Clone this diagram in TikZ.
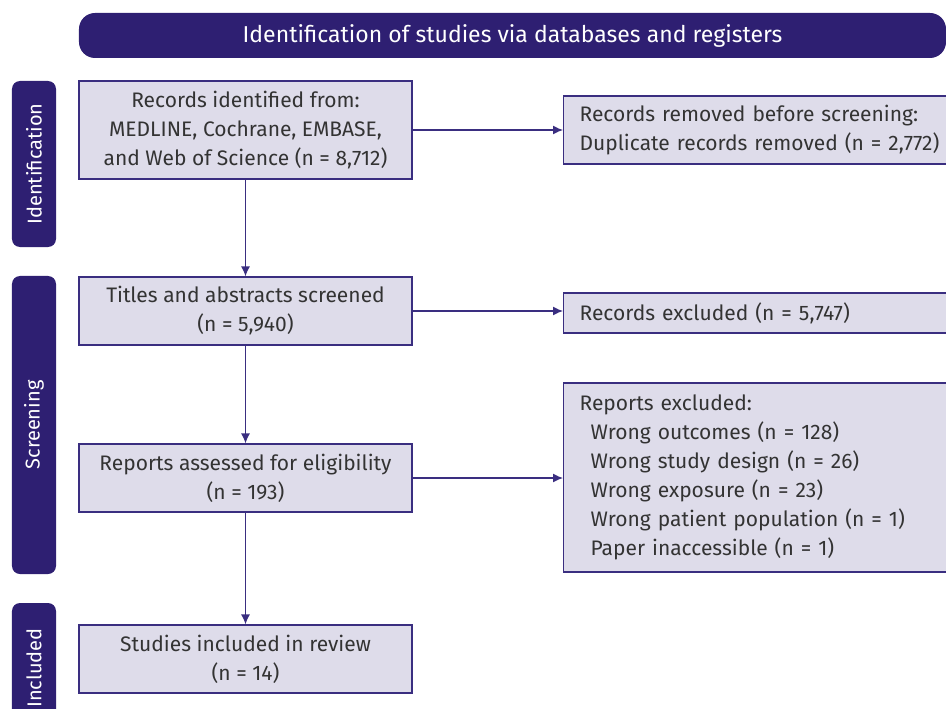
\documentclass[tikz,border=0pt]{standalone}
\usepackage{fontspec}
\setmainfont{Fira Sans}
\usetikzlibrary{arrows.meta}
\definecolor{hdr}{HTML}{2E1F72}
\definecolor{boxfill}{HTML}{DEDCEA}
\definecolor{boxline}{HTML}{3A2E80}
\definecolor{txt}{HTML}{333333}
\tikzset{
  flowbox/.style={draw=boxline, fill=boxfill, line width=1.2bp, text=txt,
    font=\fontsize{21bp}{29bp}\selectfont, align=center, inner sep=0pt,
    minimum width=333bp, minimum height=68bp},
  sidebox/.style={draw=boxline, fill=boxfill, line width=1.2bp, text=txt,
    font=\fontsize{21bp}{29bp}\selectfont, align=left, inner xsep=16bp, inner ysep=0pt,
    text width=365bp, anchor=west},
  phase/.style={fill=hdr, rounded corners=8bp, text=white, rotate=90,
    font=\fontsize{20bp}{22bp}\selectfont, minimum height=44bp, inner sep=0pt},
  arr/.style={draw=boxline, line width=1.3bp, -{Latex[length=10bp,width=9bp]}}
}
\begin{document}
\begin{tikzpicture}[x=1bp,y=-1bp]
\useasboundingbox (0,0) rectangle (946,709);
\clip (0,0) rectangle (946,709);
% header
\node[fill=hdr, rounded corners=16bp, minimum width=867bp, minimum height=45bp, inner sep=0pt,
  text=white, font=\fontsize{23bp}{26bp}\selectfont] (header) at (512.5,35.5)
  {Identification of studies via databases and registers};
% phase labels
\node[phase, minimum width=166bp] (pid) at (34,164) {Identification};
\node[phase, minimum width=298bp] (pscr) at (34,425) {Screening};
\node[phase, minimum width=130bp] (pinc) at (34,668) {Included};
% main boxes
\node[flowbox, minimum height=98bp] (b1) at (245.5,130)
  {Records identified from:\\MEDLINE, Cochrane, EMBASE,\\and Web of Science (n = 8,712)};
\node[flowbox] (b2) at (245.5,311) {Titles and abstracts screened\\(n = 5,940)};
\node[flowbox] (b3) at (245.5,478) {Reports assessed for eligibility\\(n = 193)};
\node[flowbox] (b4) at (245.5,659) {Studies included in review\\(n = 14)};
% side boxes
\node[sidebox, minimum height=68bp] (r1) at (563,130)
  {Records removed before screening:\\Duplicate records removed (n = 2,772)};
\node[sidebox, minimum height=40bp] (r2) at (563,313) {Records excluded (n = 5,747)};
\node[sidebox, minimum height=189bp] (r3) at (563,477.5)
  {Reports excluded:\\
   \hspace*{11bp}Wrong outcomes (n = 128)\\
   \hspace*{11bp}Wrong study design (n = 26)\\
   \hspace*{11bp}Wrong exposure (n = 23)\\
   \hspace*{11bp}Wrong patient population (n = 1)\\
   \hspace*{11bp}Paper inaccessible (n = 1)};
% connectors
\draw[arr] (b1) -- (b2);
\draw[arr] (b2) -- (b3);
\draw[arr] (b3) -- (b4);
\draw[arr] (b1.east) -- (r1.west);
\draw[arr] (b2.east) -- (b2.east -| r2.west);
\draw[arr] (b3.east) -- (b3.east -| r3.west);
\end{tikzpicture}
\end{document}
